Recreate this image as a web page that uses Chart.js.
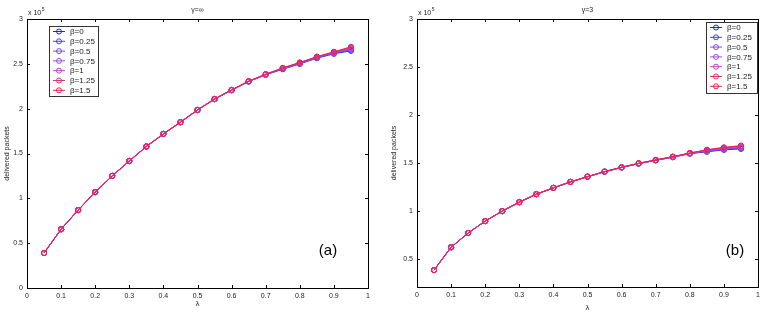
<!DOCTYPE html>
<html>
<head>
<meta charset="utf-8">
<script src="https://cdn.jsdelivr.net/npm/chart.js@4.4.1/dist/chart.umd.min.js"></script>
<style>
  html, body { margin: 0; padding: 0; background: #fff; }
  #wrap { position: relative; width: 764px; height: 315px; }
  .cv { position: absolute; top: 0; width: 382px; height: 315px; }
</style>
</head>
<body>
<div id="wrap">
  <div class="cv" style="left:0"><canvas id="c1" width="382" height="315"></canvas></div>
  <div class="cv" style="left:382px"><canvas id="c2" width="382" height="315"></canvas></div>
</div>
<script>
// ---- data ----
const lambdas = [0.05,0.1,0.15,0.2,0.25,0.3,0.35,0.4,0.45,0.5,0.55,0.6,0.65,0.7,0.75,0.8,0.85,0.9,0.95];
const betaLabels = ['β=0','β=0.25','β=0.5','β=0.75','β=1','β=1.25','β=1.5'];
const xTicks = [0,0.1,0.2,0.3,0.4,0.5,0.6,0.7,0.8,0.9,1];
const yTicksA = [0,0.5,1,1.5,2,2.5,3];
const yTicksB = [0.5,1,1.5,2,2.5,3];

// panel (a): gamma = infinity  (units of 1e5)
const a_b0   = [0.39,0.655,0.868,1.068,1.25,1.415,1.577,1.717,1.848,1.984,2.106,2.206,2.302,2.378,2.440,2.499,2.563,2.612,2.645];
const a_b025 = [0.39,0.655,0.868,1.068,1.25,1.415,1.577,1.717,1.848,1.984,2.106,2.206,2.303,2.379,2.443,2.503,2.566,2.617,2.655];
const a_b05  = [0.39,0.655,0.868,1.069,1.25,1.416,1.578,1.718,1.848,1.985,2.107,2.207,2.304,2.381,2.446,2.506,2.570,2.621,2.662];
const a_b075 = [0.39,0.655,0.869,1.069,1.25,1.416,1.578,1.718,1.849,1.985,2.107,2.208,2.305,2.382,2.449,2.509,2.573,2.625,2.670];
const a_b1   = [0.39,0.656,0.869,1.069,1.251,1.417,1.578,1.719,1.849,1.986,2.108,2.208,2.306,2.383,2.451,2.511,2.576,2.628,2.677];
const a_b125 = [0.39,0.656,0.869,1.070,1.251,1.417,1.579,1.719,1.850,1.986,2.108,2.209,2.306,2.384,2.453,2.513,2.578,2.631,2.683];
const a_b15  = [0.39,0.656,0.869,1.070,1.251,1.418,1.579,1.720,1.850,1.987,2.109,2.209,2.307,2.385,2.455,2.515,2.580,2.634,2.690];

// panel (b): gamma = 3
const b_b0   = [0.386,0.624,0.772,0.896,1.0,1.095,1.178,1.242,1.303,1.357,1.409,1.453,1.494,1.528,1.561,1.598,1.618,1.638,1.648];
const b_b025 = [0.386,0.624,0.772,0.896,1.0,1.094,1.177,1.242,1.303,1.358,1.410,1.454,1.495,1.529,1.562,1.600,1.622,1.643,1.654];
const b_b05  = [0.386,0.624,0.772,0.896,1.0,1.094,1.177,1.242,1.304,1.358,1.410,1.455,1.496,1.530,1.563,1.601,1.626,1.648,1.660];
const b_b075 = [0.386,0.624,0.772,0.896,1.0,1.093,1.176,1.242,1.304,1.359,1.411,1.456,1.497,1.531,1.564,1.602,1.630,1.652,1.666];
const b_b1   = [0.386,0.624,0.772,0.896,1.0,1.093,1.176,1.242,1.304,1.359,1.411,1.456,1.497,1.532,1.565,1.603,1.633,1.656,1.672];
const b_b125 = [0.386,0.624,0.772,0.896,1.0,1.092,1.176,1.242,1.305,1.359,1.412,1.457,1.498,1.532,1.566,1.604,1.636,1.660,1.677];
const b_b15  = [0.386,0.624,0.772,0.896,1.0,1.092,1.175,1.242,1.305,1.360,1.412,1.457,1.498,1.533,1.567,1.605,1.639,1.664,1.682];

const seriesColors = ['#2020ff','#4a3cf6','#7a4ef0','#9a4ee0','#c040c8','#e03070','#f02050'];

const FONT = '"Liberation Sans", Arial, Helvetica, sans-serif';

function makeDatasets(arrs) {
  return arrs.map((vals, i) => ({
    label: betaLabels[i],
    data: vals.map((v, k) => ({x: lambdas[k], y: v})),
    borderColor: seriesColors[i],
    backgroundColor: 'rgba(0,0,0,0)',
    borderWidth: 1,
    pointRadius: 2.6,
    pointBorderWidth: 1,
    pointStyle: 'circle',
    tension: 0,
    fill: false,
    order: arrs.length - 1 - i
  }));
}

function decorPlugin(cfg) {
  return {
    id: 'decor',
    afterDraw(chart) {
      const ctx = chart.ctx;
      const ca = chart.chartArea;
      const xs = chart.scales.x, ys = chart.scales.y;
      ctx.save();
      // box
      ctx.strokeStyle = '#000';
      ctx.lineWidth = 1;
      ctx.strokeRect(Math.round(ca.left) + 0.5, Math.round(ca.top) + 0.5,
                     Math.round(ca.right - ca.left), Math.round(ca.bottom - ca.top));
      // inward ticks
      const tl = 3;
      ctx.beginPath();
      xTicks.forEach(v => {
        const px = Math.round(xs.getPixelForValue(v)) + 0.5;
        ctx.moveTo(px, ca.bottom); ctx.lineTo(px, ca.bottom - tl);
        ctx.moveTo(px, ca.top); ctx.lineTo(px, ca.top + tl);
      });
      cfg.yTicks.forEach(v => {
        const py = Math.round(ys.getPixelForValue(v)) + 0.5;
        ctx.moveTo(ca.left, py); ctx.lineTo(ca.left + tl, py);
        ctx.moveTo(ca.right, py); ctx.lineTo(ca.right - tl, py);
      });
      ctx.stroke();
      // titles
      ctx.fillStyle = '#222';
      ctx.textAlign = 'center';
      ctx.textBaseline = 'middle';
      ctx.font = '7px ' + FONT;
      ctx.fillText(cfg.title, (ca.left + ca.right) / 2 + cfg.titleDx, 10);
      ctx.font = '8px ' + FONT;
      ctx.fillText('λ', (ca.left + ca.right) / 2, cfg.xTitleY);
      ctx.save();
      ctx.translate(cfg.yTitleX, (ca.top + ca.bottom) / 2);
      ctx.rotate(-Math.PI / 2);
      ctx.font = '7px ' + FONT;
      ctx.fillText('delivered packets', 0, 0);
      ctx.restore();
      // exponent
      ctx.textAlign = 'left';
      ctx.font = '7px ' + FONT;
      ctx.fillText('x 10', ca.left + 1, 13);
      const w = ctx.measureText('x 10').width;
      ctx.font = '5px ' + FONT;
      ctx.fillText('5', ca.left + 1 + w + 0.5, 10);
      // panel label
      ctx.font = '15px ' + FONT;
      ctx.textAlign = 'center';
      ctx.fillStyle = '#000';
      ctx.fillText(cfg.panel, cfg.panelX, 251);
      // legend
      const L = cfg.legend;
      ctx.fillStyle = '#fff';
      ctx.fillRect(L.x, L.y, L.w, L.h);
      ctx.strokeStyle = '#333';
      ctx.lineWidth = 1;
      ctx.strokeRect(L.x + 0.5, L.y + 0.5, L.w, L.h);
      betaLabels.forEach((lab, i) => {
        const cy = L.y + 5.5 + i * L.row;
        ctx.strokeStyle = seriesColors[i];
        ctx.lineWidth = 1;
        ctx.beginPath();
        ctx.moveTo(L.x + 4, cy); ctx.lineTo(L.x + 16, cy);
        ctx.stroke();
        ctx.beginPath();
        ctx.arc(L.x + 10, cy, 2.5, 0, Math.PI * 2);
        ctx.stroke();
        ctx.fillStyle = '#222';
        ctx.textAlign = 'left';
        ctx.font = '8px ' + FONT;
        ctx.fillText(lab, L.x + 21, cy + 0.5);
      });
      ctx.restore();
    }
  };
}

function makeChart(id, arrs, cfg) {
  return new Chart(document.getElementById(id), {
    type: 'line',
    data: { datasets: makeDatasets(arrs) },
    options: {
      responsive: false,
      animation: false,
      events: [],
      layout: { padding: { left: 0, top: 19, right: cfg.padRight, bottom: 0 } },
      plugins: { legend: { display: false }, tooltip: { enabled: false }, title: { display: false } },
      scales: {
        x: {
          type: 'linear', min: 0, max: 1,
          afterBuildTicks: s => { s.ticks = xTicks.map(v => ({value: v})); },
          afterFit: s => { s.height = cfg.xAxisH; },
          grid: { display: false, drawTicks: false },
          border: { display: false },
          ticks: { color: '#222', font: { size: 7, family: FONT }, padding: 4, maxRotation: 0, autoSkip: false,
                   callback: v => String(Math.round(v * 10) / 10) }
        },
        y: {
          type: 'linear', min: cfg.yMin, max: 3,
          afterBuildTicks: s => { s.ticks = cfg.yTicks.map(v => ({value: v})); },
          afterFit: s => { s.width = cfg.yAxisW; },
          grid: { display: false, drawTicks: false },
          border: { display: false },
          ticks: { color: '#222', font: { size: 7, family: FONT }, padding: 4, autoSkip: false,
                   callback: v => String(v) }
        }
      }
    },
    plugins: [decorPlugin(cfg)]
  });
}

makeChart('c1', [a_b0,a_b025,a_b05,a_b075,a_b1,a_b125,a_b15], {
  padRight: 14, yAxisW: 27, xAxisH: 27, yMin: 0, yTicks: yTicksA,
  title: 'γ=∞', titleDx: 0, xTitleY: 304, yTitleX: 7, panel: '(a)', panelX: 328,
  legend: { x: 49, y: 26, w: 49, h: 70, row: 9.8 }
});
makeChart('c2', [b_b0,b_b025,b_b05,b_b075,b_b1,b_b125,b_b15], {
  padRight: 5, yAxisW: 35, xAxisH: 28, yMin: 0.21, yTicks: yTicksB,
  title: 'γ=3', titleDx: 0, xTitleY: 308, yTitleX: 12, panel: '(b)', panelX: 353,
  legend: { x: 324, y: 22, w: 51, h: 71, row: 9.8 }
});
</script>
</body>
</html>
